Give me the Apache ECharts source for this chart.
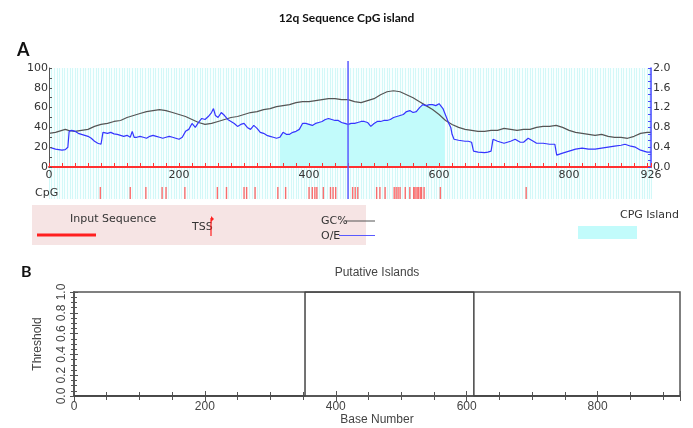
<!DOCTYPE html>
<html><head><meta charset="utf-8">
<script src="https://cdn.jsdelivr.net/npm/echarts@6/dist/echarts.min.js"></script>
<style>html,body{margin:0;padding:0;background:#fff}#c{width:693px;height:428px}</style>
</head><body><div id="c"></div>
<script>
// ---------- data ----------
const seqLength = 926;
const topAxisLabels = [0, 200, 400, 600, 800, 926];
const gcPercent = [[0,34],[10,35],[20,37],[25,38],[30,37],[40,36],[50,37],[60,38],[70,41],[80,43],[90,44],[100,46],[110,47],[120,50],[130,52],[140,54],[150,56],[160,57],[170,58],[180,57],[190,55],[200,53],[210,51],[220,48],[230,45],[240,43],[250,44],[260,46],[270,48],[280,50],[290,51],[300,53],[310,55],[320,56],[330,58],[340,59],[350,61],[360,62],[370,63],[380,65],[390,66],[400,66],[410,67],[420,68],[430,69],[440,69],[450,68],[460,68],[470,66],[480,65],[490,67],[500,69],[510,73],[520,76],[530,77],[540,76],[550,73],[560,70],[570,66],[580,62],[590,58],[600,53],[610,47],[620,43],[630,40],[640,38],[650,37],[660,36],[670,36],[680,37],[690,37],[700,39],[710,38],[720,37],[730,38],[740,38],[750,40],[760,41],[770,41],[780,42],[790,40],[800,37],[810,35],[820,34],[830,33],[840,32],[850,33],[860,31],[870,30],[880,30],[890,29],[900,31],[910,34],[920,35],[926,35]];
const obsExp = [[0,0.40],[5,0.38],[10,0.36],[15,0.35],[20,0.34],[25,0.35],[29,0.40],[31,0.72],[35,0.74],[40,0.72],[45,0.68],[50,0.66],[55,0.64],[60,0.62],[65,0.58],[70,0.52],[75,0.48],[80,0.46],[82,0.48],[83,0.70],[90,0.68],[95,0.70],[100,0.67],[105,0.66],[110,0.64],[115,0.62],[120,0.64],[125,0.60],[128,0.72],[131,0.60],[135,0.60],[140,0.62],[145,0.60],[150,0.58],[155,0.62],[160,0.64],[165,0.62],[170,0.60],[172,0.56],[175,0.58],[180,0.60],[185,0.62],[190,0.60],[195,0.58],[200,0.56],[205,0.60],[210,0.72],[215,0.76],[220,0.88],[225,0.80],[230,0.90],[235,0.98],[240,0.96],[245,1.02],[250,1.10],[253,1.18],[256,1.04],[260,1.00],[265,1.10],[270,1.04],[275,0.96],[280,0.92],[285,0.88],[290,0.82],[295,0.86],[300,0.88],[305,0.80],[310,0.76],[315,0.84],[320,0.78],[325,0.70],[330,0.68],[335,0.64],[340,0.62],[345,0.60],[350,0.58],[355,0.60],[360,0.70],[365,0.66],[370,0.66],[375,0.70],[380,0.72],[385,0.76],[390,0.88],[395,0.88],[400,0.86],[405,0.84],[410,0.88],[415,0.90],[420,0.92],[425,0.96],[430,0.98],[435,0.96],[440,0.94],[445,0.94],[450,0.90],[455,0.88],[460,0.86],[465,0.88],[470,0.88],[475,0.90],[480,0.92],[485,0.92],[490,0.90],[495,0.82],[500,0.88],[505,0.92],[510,0.92],[515,0.94],[520,0.94],[525,0.96],[530,1.00],[535,1.02],[540,1.04],[545,1.06],[550,1.12],[555,1.14],[560,1.10],[565,1.12],[570,1.20],[575,1.26],[580,1.24],[585,1.26],[590,1.26],[595,1.24],[600,1.28],[603,1.24],[606,1.18],[609,1.08],[612,0.98],[615,0.88],[618,0.80],[620,0.66],[623,0.56],[630,0.54],[640,0.52],[645,0.52],[650,0.50],[653,0.32],[660,0.30],[670,0.29],[675,0.30],[680,0.32],[683,0.56],[690,0.52],[700,0.48],[710,0.52],[717,0.56],[725,0.50],[730,0.50],[737,0.58],[745,0.52],[750,0.48],[760,0.48],[770,0.46],[778,0.46],[781,0.24],[790,0.28],[800,0.32],[810,0.36],[820,0.38],[830,0.36],[840,0.36],[850,0.38],[860,0.40],[870,0.42],[880,0.44],[886,0.46],[895,0.42],[902,0.40],[910,0.34],[915,0.32],[920,0.30],[926,0.30]];
const cpgSites = [79,125,149,174,180,209,259,273,300,304,317,352,364,400,405,409,412,422,433,437,441,467,471,475,504,509,517,531,534,537,540,548,555,561,563,566,568,571,573,577,602,734];
const tssPos = 460;
const islandStart = 353;
const islandEnd = 611;
const thresholdSteps = [[0,0],[353,0],[353,1],[611,1],[611,0],[926,0]];
const thresholdTicks = [0, 0.2, 0.4, 0.6, 0.8, 1.0];

// ---------- chart ----------
const chart = echarts.init(document.getElementById('c'), null, {renderer: 'canvas'});
const F = 'DejaVu Sans';
const F2 = 'Liberation Sans';
const islandFill = obsExp.filter(p => p[0] >= islandStart && p[0] <= islandEnd);

const option = {
  animation: false,
  backgroundColor: '#fff',
  title: [
    {text: '12q Sequence CpG island', left: 'center', top: 7, textStyle: {fontFamily: 'Lato', fontWeight: 'bold', fontSize: 12, color: '#111'}},
    {text: 'A', left: 12, top: 36, textStyle: {fontFamily: 'Lato', fontWeight: 'bold', fontSize: 18, color: '#111'}},
    {text: 'B', left: 16, top: 259, textStyle: {fontFamily: 'Lato', fontWeight: 'bold', fontSize: 16, color: '#111'}}
  ],
  grid: [
    {left: 49, top: 68, width: 602, height: 99},
    {left: 49, top: 68, width: 602, height: 131, show: true, backgroundColor: '#f8ffff', borderWidth: 0},
    {left: 49, top: 187, width: 602, height: 12},
    {left: 49, top: 61, width: 602, height: 138},
    {left: 74, top: 292, width: 606, height: 104, show: true, borderColor: '#555', borderWidth: 1.5}
  ],
  xAxis: [
    {gridIndex: 0, type: 'value', min: 0, max: seqLength, interval: 20, z: 6,
     axisLine: {show: true, lineStyle: {color: '#ff3030', width: 2}},
     axisTick: {show: true, inside: true, length: 4, lineStyle: {color: '#ff3030', width: 1}},
     axisLabel: {margin: 3, color: '#333', fontFamily: F, fontSize: 11,
       formatter: v => topAxisLabels.indexOf(v) >= 0 ? String(v) : ''},
     splitLine: {show: false}},
    {gridIndex: 1, type: 'value', min: 0, max: seqLength, interval: 4,
     axisLine: {show: false}, axisTick: {show: false}, axisLabel: {show: false},
     splitLine: {show: true, lineStyle: {color: '#d3f8f8', width: 1}}},
    {gridIndex: 2, type: 'value', min: 0, max: seqLength, show: false},
    {gridIndex: 3, type: 'value', min: 0, max: seqLength, show: false},
    {gridIndex: 4, type: 'value', min: 0, max: seqLength, interval: 200, position: 'bottom',
     axisLine: {show: true, lineStyle: {color: '#555', width: 1.5}},
     axisTick: {show: true, inside: true, length: 5, lineStyle: {color: '#555'}},
     minorTick: {show: true, splitNumber: 4, length: 4, lineStyle: {color: '#555'}},
     axisLabel: {margin: 5, color: '#444', fontFamily: F2, fontSize: 12, showMaxLabel: false},
     splitLine: {show: false},
     name: 'Base Number', nameLocation: 'middle', nameGap: 18,
     nameTextStyle: {color: '#444', fontFamily: F2, fontSize: 12}},
    {gridIndex: 4, type: 'value', min: 0, max: seqLength, interval: 200, position: 'top',
     axisLine: {show: true, lineStyle: {color: '#555', width: 1.5}},
     axisTick: {show: true, inside: true, length: 5, lineStyle: {color: '#555'}},
     minorTick: {show: true, splitNumber: 4, length: 4, lineStyle: {color: '#555'}},
     axisLabel: {show: false}, splitLine: {show: false}}
  ],
  yAxis: [
    {gridIndex: 0, type: 'value', min: 0, max: 100, interval: 20, position: 'left', z: 6,
     axisLine: {show: true, lineStyle: {color: '#555', width: 1}},
     axisTick: {show: true, inside: true, length: 3, lineStyle: {color: '#555'}},
     minorTick: {show: true, splitNumber: 2, length: 3, lineStyle: {color: '#555'}},
     axisLabel: {margin: 1, color: '#333', fontFamily: F, fontSize: 11},
     splitLine: {show: false}},
    {gridIndex: 0, type: 'value', min: 0, max: 2, interval: 0.4, position: 'right', z: 6,
     axisLine: {show: true, lineStyle: {color: '#4a4aff', width: 1.5}},
     axisTick: {show: true, inside: true, length: 3, lineStyle: {color: '#4a4aff'}},
     minorTick: {show: true, splitNumber: 3, length: 3, lineStyle: {color: '#4a4aff'}},
     axisLabel: {margin: 2, color: '#333', fontFamily: F, fontSize: 11, formatter: v => v.toFixed(1)},
     splitLine: {show: false}},
    {gridIndex: 1, type: 'value', min: 0, max: 1, show: false},
    {gridIndex: 2, type: 'value', min: 0, max: 1, show: false},
    {gridIndex: 3, type: 'value', min: 0, max: 1, show: false},
    {gridIndex: 4, type: 'value', min: 0, max: 1, interval: 0.2, position: 'left',
     axisLine: {show: true, lineStyle: {color: '#555', width: 1.5}},
     axisTick: {show: true, inside: true, length: 4, lineStyle: {color: '#555'}},
     minorTick: {show: true, splitNumber: 4, length: 3, lineStyle: {color: '#555'}},
     axisLabel: {rotate: 90, margin: 6, color: '#444', fontFamily: F2, fontSize: 12,
       formatter: v => thresholdTicks.some(t => Math.abs(t - v) < 1e-9) ? v.toFixed(1) : ''},
     splitLine: {show: false},
     name: 'Threshold', nameLocation: 'middle', nameGap: 30, nameRotate: 90,
     nameTextStyle: {color: '#444', fontFamily: F2, fontSize: 12}},
    {gridIndex: 4, type: 'value', min: 0, max: 1, interval: 0.2, position: 'right',
     axisLine: {show: true, lineStyle: {color: '#555', width: 1.5}},
     axisTick: {show: true, inside: true, length: 4, lineStyle: {color: '#555'}},
     minorTick: {show: true, splitNumber: 4, length: 3, lineStyle: {color: '#555'}},
     axisLabel: {show: false}, splitLine: {show: false}}
  ],
  series: [
    {type: 'line', name: 'island', xAxisIndex: 0, yAxisIndex: 1, data: islandFill, symbol: 'none',
     lineStyle: {width: 0}, areaStyle: {color: '#c2fbfb', opacity: 1}, z: 1, silent: true},
    {type: 'line', name: 'GC%', xAxisIndex: 0, yAxisIndex: 0, data: gcPercent, symbol: 'none',
     lineStyle: {color: '#555555', width: 1.2}, z: 3},
    {type: 'line', name: 'O/E', xAxisIndex: 0, yAxisIndex: 1, data: obsExp, symbol: 'none',
     lineStyle: {color: '#3535ff', width: 1.2}, z: 4},
    {type: 'scatter', name: 'CpG', xAxisIndex: 2, yAxisIndex: 3, data: cpgSites.map(p => [p, 0.5]),
     symbol: 'rect', symbolSize: [1.4, 12], itemStyle: {color: '#ff4a4a'}, z: 3},
    {type: 'line', name: 'TSS', xAxisIndex: 3, yAxisIndex: 4, data: [[tssPos, 0], [tssPos, 1]], symbol: 'none',
     lineStyle: {color: '#5a5aff', width: 1.5}, z: 7},
    {type: 'line', name: 'Threshold', xAxisIndex: 4, yAxisIndex: 5, data: thresholdSteps, symbol: 'none',
     lineStyle: {color: '#444', width: 1.5}, z: 5}
  ],
  graphic: [
    {type: 'rect', shape: {x: 32, y: 205, width: 334, height: 40}, style: {fill: '#f6e4e4'}, z: -1},
    {type: 'text', x: 70, y: 219, style: {text: 'Input Sequence', font: '11px "DejaVu Sans"', fill: '#333', verticalAlign: 'middle'}},
    {type: 'line', shape: {x1: 37, y1: 235, x2: 96, y2: 235}, style: {stroke: '#ff2020', lineWidth: 3}},
    {type: 'text', x: 192, y: 227, style: {text: 'TSS', font: '11px "DejaVu Sans"', fill: '#333', verticalAlign: 'middle'}},
    {type: 'line', shape: {x1: 211, y1: 218, x2: 211, y2: 236}, style: {stroke: '#ff2020', lineWidth: 1.2}},
    {type: 'polygon', shape: {points: [[211, 216], [214, 219], [211, 222]]}, style: {fill: '#ff2020'}},
    {type: 'text', x: 321, y: 221, style: {text: 'GC%', font: '11px "DejaVu Sans"', fill: '#333', verticalAlign: 'middle'}},
    {type: 'line', shape: {x1: 345, y1: 221, x2: 375, y2: 221}, style: {stroke: '#555', lineWidth: 1}},
    {type: 'text', x: 321, y: 236, style: {text: 'O/E', font: '11px "DejaVu Sans"', fill: '#333', verticalAlign: 'middle'}},
    {type: 'line', shape: {x1: 339, y1: 235.5, x2: 375, y2: 235.5}, style: {stroke: '#5a5aff', lineWidth: 1}},
    {type: 'text', x: 620, y: 215, style: {text: 'CPG Island', font: '11px "DejaVu Sans"', fill: '#333', verticalAlign: 'middle'}},
    {type: 'rect', shape: {x: 578, y: 226, width: 59, height: 13}, style: {fill: '#c2fbfb'}},
    {type: 'text', x: 35, y: 193, z: 10, style: {text: 'CpG', font: '11px "DejaVu Sans"', fill: '#333', verticalAlign: 'middle'}},
    {type: 'text', x: 377, y: 273, style: {text: 'Putative Islands', font: '12px "Liberation Sans"', fill: '#444', align: 'center', verticalAlign: 'middle'}}
  ]
};
chart.setOption(option);
</script>
</body></html>
